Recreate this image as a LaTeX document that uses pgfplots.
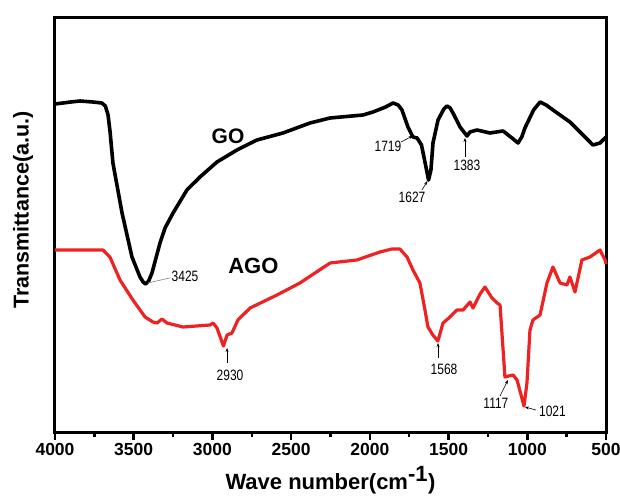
\documentclass[border=0pt]{standalone}
\usepackage{pgfplots}
\pgfplotsset{compat=1.18}
\usepackage{fontspec}
\setmainfont{Liberation Sans}
\newfontfamily\narrowfont[FakeStretch=0.8]{Liberation Sans}
\usetikzlibrary{arrows.meta}
\definecolor{agored}{HTML}{EE2222}

\begin{document}
\begin{tikzpicture}
\begin{axis}[
  name=ftir,scale only axis,width=551pt,height=414pt,
  x dir=reverse,xmin=500,xmax=4000,ymin=0,ymax=414,
  xtick={500,1000,...,4000},minor x tick num=1,
  xtick pos=left,ytick=\empty,tick align=outside,
  major tick length=8pt,minor tick length=5pt,
  every tick/.style={black,line width=2.5pt},
  axis line style={line width=3pt},
  /pgf/number format/assume math mode=true,
  /pgf/number format/1000 sep={},
  tick label style={font=\fontsize{17.5}{19}\selectfont\bfseries},
  xlabel={Wave number(cm$^{\textbf{-1}}$)},
  xlabel style={font=\fontsize{22}{26}\selectfont\bfseries,at={(rel axis cs:0.5,-0.138)},anchor=base},
  ylabel={Transmittance(a.u.)},
  ylabel style={font=\fontsize{21.5}{25}\selectfont\bfseries,at={(rel axis cs:-0.058,0.536)},anchor=center},
  clip=false]
% GO
\addplot[black,line width=3.6pt,line join=round] coordinates {
(4000,328)(3900,330)(3841,331)(3760,330)(3703,329)(3680,326)(3663,317)(3650,300)
(3632,269)(3574,219)(3511,175)(3460,155)(3440,150)(3425,148)(3405,151)(3384,159)
(3333,189)(3301,204)(3250,219)(3162,242)(3079,255)(2971,270)(2844,282)(2717,292)
(2552,299)(2380,309)(2253,314)(2044,317)(1980,320)(1900,325)(1853,329)(1820,327)
(1796,322)(1758,305)(1726,295)(1700,294)(1672,287)(1650,270)(1627,252)(1612,262)
(1599,289)(1567,312)(1530,323)(1510,326)(1490,324)(1472,319)(1427,305)(1383,296)
(1364,300)(1320,302)(1237,299)(1154,301)(1097,294)(1059,289)(1035,295)(1015,304)
(960,322)(919,330)(880,327)(837,322)(729,310)(646,297)(583,287)(538,289)(506,294)(500,295)};
% AGO
\addplot[agored,line width=3.2pt,line join=round] coordinates {
(4000,182)(3695,182)(3651,175)(3587,152)(3505,132)(3428,115)(3378,110)(3352,109)
(3320,113)(3289,109)(3187,105)(3015,107)(2996,109)(2971,104)(2930,86)(2907,97)
(2876,99)(2838,112)(2761,124)(2590,137)(2444,149)(2253,169)(2082,172)(1936,180)
(1860,183)(1809,183)(1764,175)(1726,162)(1682,149)(1650,122)(1631,105)(1600,97)
(1568,91)(1535,109)(1491,115)(1447,122)(1408,122)(1364,130)(1345,124)(1300,138)
(1269,145)(1224,134)(1192,129)(1173,127)(1142,55)(1117,56)(1090,57)(1065,52)
(1021,26)(1002,49)(983,102)(964,112)(919,117)(875,149)(837,165)(792,149)
(748,147)(729,155)(697,140)(653,172)(602,175)(538,182)(506,172)(500,168)};
% labels
\node[font=\fontsize{21}{24}\selectfont\bfseries] at (2901,296) {GO};
\node[font=\fontsize{22}{25}\selectfont\bfseries] at (2740,166) {AGO};
\tikzset{pk/.style={font=\narrowfont\fontsize{15}{17}\selectfont,inner sep=0pt},
  pa/.style={-{Stealth[length=4pt,width=3pt]},line width=0.6pt}}
\node[pk] at (3174,156) {3425};
\draw[gray,line width=0.6pt] (3272,154) -- (3410,149);
\node[pk] at (1885,286) {1719};
\draw[pa] (1802,290) -- (1728,296);
\node[pk] at (1732,235) {1627};
\draw[pa] (1669,242) -- (1634,251);
\node[pk] at (1383,267) {1383};
\draw[pa] (1396,275) -- (1396,294);
\node[pk] at (2888,57) {2930};
\draw[pa] (2907,69) -- (2907,84);
\node[pk] at (1529,63) {1568};
\draw[pa] (1567,74) -- (1567,89);
\node[pk] at (1199,29) {1117};
\draw[pa] (1173,36) -- (1123,52);
\node[pk] at (840,21) {1021};
\draw[pa] (945,22) -- (1015,25);
\end{axis}
\pgfresetboundingbox
\path ([shift={(-55pt,-63pt)}]ftir.south west) rectangle ([shift={(14pt,18pt)}]ftir.north east);
\end{tikzpicture}
\end{document}
